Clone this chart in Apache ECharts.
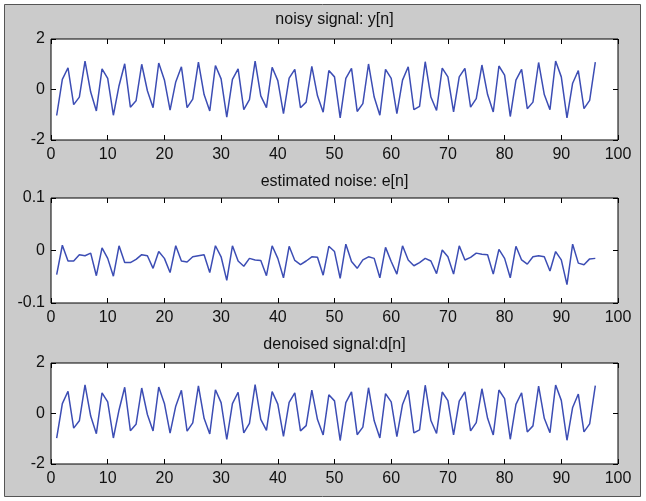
<!DOCTYPE html>
<html><head><meta charset="utf-8">
<script src="https://cdn.jsdelivr.net/npm/echarts@6/dist/echarts.min.js"></script>
<style>html,body{margin:0;padding:0;background:#ffffff;}#c{width:646px;height:501px;}</style>
</head><body><div id="c"></div>
<script>
// sample index n = 1..96
var n = [];
for (var i = 1; i <= 96; i++) n.push(i);

var titles = ['noisy signal: y[n]', 'estimated noise: e[n]', 'denoised signal:d[n]'];
var xTicks = [0, 10, 20, 30, 40, 50, 60, 70, 80, 90, 100];

var yNoisy = [-1.03,0.40,0.86,-0.60,-0.30,1.12,-0.10,-0.85,0.82,0.44,
-1.02,0.15,1.02,-0.70,-0.45,1.00,-0.05,-0.72,1.05,0.38,
-0.82,0.30,0.90,-0.72,-0.38,1.08,-0.20,-0.85,0.95,0.42,
-1.09,0.40,0.82,-0.80,-0.40,1.12,-0.25,-0.72,0.88,0.35,
-0.96,0.45,0.80,-0.72,-0.50,0.92,-0.25,-0.90,0.75,0.50,
-1.12,0.44,0.84,-0.87,-0.56,1.01,-0.30,-1.02,0.80,0.44,
-0.96,0.37,0.90,-0.80,-0.67,1.10,-0.30,-0.83,0.85,0.50,
-0.89,0.50,0.84,-0.70,-0.36,0.97,-0.20,-0.89,0.93,0.57,
-1.07,0.37,0.80,-0.76,-0.50,1.07,-0.20,-0.80,1.13,0.50,
-1.12,0.25,0.75,-0.76,-0.43,1.08];

var eNoise = [-0.046,0.010,-0.020,-0.020,-0.008,-0.010,-0.005,-0.048,0.005,-0.015,
-0.049,0.009,-0.023,-0.023,-0.017,-0.008,-0.010,-0.034,-0.002,-0.015,
-0.042,0.009,-0.020,-0.022,-0.012,-0.010,-0.008,-0.042,0.009,-0.012,
-0.057,0.009,-0.020,-0.030,-0.015,-0.018,-0.019,-0.048,0.009,-0.015,
-0.052,0.008,-0.019,-0.027,-0.020,-0.012,-0.013,-0.047,0.008,-0.002,
-0.053,0.012,-0.021,-0.034,-0.018,-0.012,-0.015,-0.052,0.006,-0.021,
-0.045,0.009,-0.018,-0.029,-0.023,-0.015,-0.020,-0.044,0.001,-0.012,
-0.045,0.009,-0.018,-0.013,-0.005,-0.007,-0.008,-0.045,0.002,-0.015,
-0.052,0.008,-0.018,-0.026,-0.012,-0.010,-0.012,-0.039,-0.002,-0.018,
-0.065,0.012,-0.024,-0.027,-0.016,-0.015];

var dDenoised = [-0.98,0.39,0.88,-0.58,-0.29,1.13,-0.10,-0.80,0.82,0.46,
-0.97,0.14,1.04,-0.68,-0.43,1.01,-0.04,-0.69,1.05,0.40,
-0.78,0.29,0.92,-0.70,-0.37,1.09,-0.19,-0.81,0.94,0.43,
-1.03,0.39,0.84,-0.77,-0.39,1.14,-0.23,-0.67,0.87,0.37,
-0.91,0.44,0.82,-0.69,-0.48,0.93,-0.24,-0.85,0.74,0.50,
-1.07,0.43,0.86,-0.84,-0.54,1.02,-0.29,-0.97,0.79,0.46,
-0.92,0.36,0.92,-0.77,-0.65,1.12,-0.28,-0.79,0.85,0.51,
-0.85,0.49,0.86,-0.69,-0.36,0.98,-0.19,-0.85,0.93,0.59,
-1.02,0.36,0.82,-0.73,-0.49,1.08,-0.19,-0.76,1.13,0.52,
-1.06,0.24,0.77,-0.73,-0.41,1.10];

var yRanges = [[-2, 2, 2], [-0.1, 0.1, 0.1], [-2, 2, 2]];
var seriesValues = [yNoisy, eNoise, dDenoised];

var grids = [
  {left: 51, top: 39, width: 567, height: 101},
  {left: 51, top: 198, width: 567, height: 105},
  {left: 51, top: 363, width: 567, height: 101}
];
var titleY = [20, 182, 345];
var FONT = '"Liberation Sans", Arial, sans-serif';
var TXT = '#111111';

var option = {
  animation: false,
  backgroundColor: 'transparent',
  grid: [], xAxis: [], yAxis: [], series: [],
  graphic: [
    {type: 'rect', shape: {x: 4.5, y: 4.5, width: 636, height: 492},
     style: {fill: '#cbcbcb', stroke: '#555555', lineWidth: 1}, z: -10}
  ]
};

for (var k = 0; k < 3; k++) {
  var g = grids[k];
  option.grid.push({left: g.left, top: g.top, width: g.width, height: g.height,
    show: true, backgroundColor: '#ffffff', borderColor: '#000000', borderWidth: 1, containLabel: false});
  var xBase = {gridIndex: k, type: 'value', min: 0, max: 100, interval: 10,
    axisLine: {show: false, onZero: false}, splitLine: {show: false},
    axisTick: {show: true, inside: true, length: 5, lineStyle: {color: '#000', width: 1}}};
  option.xAxis.push(Object.assign({}, xBase, {position: 'bottom',
    axisLabel: {show: true, margin: 7, color: TXT, fontSize: 16, fontFamily: FONT}}));
  option.xAxis.push(Object.assign({}, xBase, {position: 'top', axisLabel: {show: false}}));
  var r = yRanges[k];
  var yBase = {gridIndex: k, type: 'value', min: r[0], max: r[1], interval: r[2],
    axisLine: {show: false, onZero: false}, splitLine: {show: false},
    axisTick: {show: true, inside: true, length: 5, lineStyle: {color: '#000', width: 1}}};
  option.yAxis.push(Object.assign({}, yBase, {position: 'left',
    axisLabel: {show: true, margin: 6, color: TXT, fontSize: 16, fontFamily: FONT}}));
  option.yAxis.push(Object.assign({}, yBase, {position: 'right', axisLabel: {show: false}}));
  var vals = seriesValues[k];
  option.series.push({type: 'line', xAxisIndex: 2 * k, yAxisIndex: 2 * k,
    data: n.map(function (x, i) { return [x, vals[i]]; }),
    showSymbol: false, symbol: 'none', lineStyle: {color: '#3c4db4', width: 1.5}, silent: true});
  option.graphic.push({type: 'text', z: 10, style: {text: titles[k], x: g.left + g.width / 2, y: titleY[k],
    textAlign: 'center', textVerticalAlign: 'middle', fill: TXT, fontSize: 16, fontFamily: FONT}});
}

var chart = echarts.init(document.getElementById('c'), null, {renderer: 'canvas'});
chart.setOption(option);
</script></body></html>
